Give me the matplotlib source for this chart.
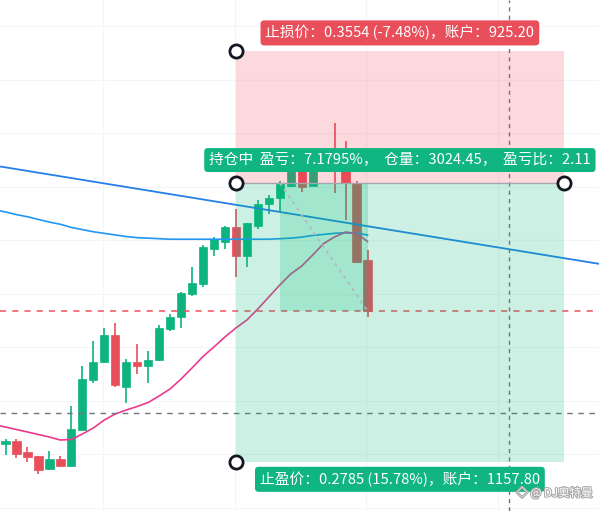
import matplotlib
matplotlib.use("Agg")
import matplotlib.pyplot as plt
import matplotlib.patheffects as pe
from matplotlib.patches import Rectangle

plt.rcParams['font.family'] = ['Noto Sans CJK SC', 'DejaVu Sans']

# candles (index 0 = leftmost visible bar)
opens  = [0.2819, 0.2825, 0.2804, 0.2796, 0.2772, 0.2791, 0.2778, 0.2845, 0.2939, 0.2972,
          0.3023, 0.2926, 0.2973, 0.2965, 0.2976, 0.3034, 0.3057, 0.3100, 0.3118, 0.3184,
          0.3197, 0.3224, 0.3171, 0.3227, 0.3268, 0.3279, 0.3301, 0.3344, 0.3301, 0.3350,
          0.3346, 0.3330, 0.3307, 0.3164]
highs  = [0.2829, 0.2829, 0.2814, 0.2797, 0.2807, 0.2796, 0.2890, 0.2965, 0.3012, 0.3037,
          0.3045, 0.2978, 0.3007, 0.2993, 0.3042, 0.3062, 0.3104, 0.3151, 0.3191, 0.3207,
          0.3227, 0.3259, 0.3233, 0.3275, 0.3285, 0.3310, 0.3350, 0.3359, 0.3354, 0.3369,
          0.3420, 0.3386, 0.3310, 0.3182]
lows   = [0.2799, 0.2793, 0.2786, 0.2763, 0.2771, 0.2776, 0.2776, 0.2843, 0.2933, 0.2971,
          0.2925, 0.2896, 0.2951, 0.2934, 0.2974, 0.3031, 0.3037, 0.3096, 0.3112, 0.3171,
          0.3184, 0.3132, 0.3151, 0.3222, 0.3250, 0.3253, 0.3299, 0.3291, 0.3301, 0.3331,
          0.3288, 0.3238, 0.3158, 0.3056]
closes = [0.2824, 0.2801, 0.2795, 0.2771, 0.2791, 0.2778, 0.2847, 0.2941, 0.2973, 0.3023,
          0.2930, 0.2973, 0.2965, 0.2976, 0.3036, 0.3057, 0.3102, 0.3121, 0.3188, 0.3202,
          0.3224, 0.3171, 0.3232, 0.3268, 0.3280, 0.3307, 0.3341, 0.3299, 0.3339, 0.3339,
          0.3335, 0.3308, 0.3160, 0.3068]

# moving averages, index -1 .. 33
ma_x = list(range(-1, 34))
ma_blue = [0.3257, 0.3253, 0.3248, 0.3244, 0.3239, 0.3234, 0.3230, 0.3224, 0.3220, 0.3216,
           0.3213, 0.3210, 0.3207, 0.3205, 0.3204, 0.3203, 0.3202, 0.3202, 0.3202, 0.3202,
           0.3202, 0.3202, 0.3202, 0.3202, 0.3202, 0.3202, 0.3203, 0.3204, 0.3206, 0.3209,
           0.3211, 0.3213, 0.3214, 0.3213, 0.3210]
ma_pink = [0.28548, 0.28510, 0.28463, 0.28417, 0.28370, 0.28323, 0.28267, 0.28277, 0.28379, 0.28491,
           0.28641, 0.28753, 0.28828, 0.28893, 0.28968, 0.29090, 0.29221, 0.29407, 0.29613, 0.29828,
           0.30006, 0.30193, 0.30361, 0.30510, 0.30716, 0.30940, 0.31164, 0.31370, 0.31519, 0.31725,
           0.31940, 0.32062, 0.32155, 0.32127, 0.31978]

trend_x = [-0.5, 54.1]
trend_y = [0.3338, 0.3156]

# short position tool
entry = 0.3307
stop = 0.3554
target = 0.2785
current = 0.3068
pos_start, pos_end = 21, 50.9
open_start, open_end = 25, 33
cross_x = 45.9
cross_y = 0.28766

label_stop = "止损价：0.3554 (-7.48%)，账户：925.20"
label_mid = "持仓中  盈亏：7.1795%，  仓量：3024.45，  盈亏比：2.11"
label_tp = "止盈价：0.2785 (15.78%)，账户：1157.80"

GREEN = "#0db47f"
RED = "#e94e5b"

fig = plt.figure(figsize=(5.99, 5.11), dpi=100)
ax = fig.add_axes([0, 0, 1, 1])
ax.set_xlim(-0.5014, 54.10)
ax.set_ylim(0.269402, 0.364916)
ax.axis("off")

# grid
for g in [0.27, 0.28, 0.29, 0.30, 0.31, 0.32, 0.33, 0.34, 0.35, 0.36]:
    ax.axhline(g, color="#f4f5f8", lw=0.8, zorder=0)
for g in [8.9, 20.9, 32.9, 44.9]:
    ax.axvline(g, color="#f4f5f8", lw=0.8, zorder=0)

# candles
for i in range(len(opens)):
    col = GREEN if closes[i] >= opens[i] else RED
    ax.plot([i, i], [lows[i], highs[i]], color=col, lw=1.2, zorder=2, solid_capstyle="butt")
    lo = min(opens[i], closes[i])
    h = max(abs(closes[i] - opens[i]), 0.00025)
    ax.add_patch(Rectangle((i - 0.38, lo), 0.76, h, facecolor=col, edgecolor=col, lw=0.5, zorder=2))

ax.plot(ma_x, ma_blue, color="#2196f3", lw=1.2, zorder=3)
ax.plot(ma_x, ma_pink, color="#ec3a8e", lw=1.2, zorder=3)
ax.plot(trend_x, trend_y, color="#2480e8", lw=1.3, zorder=3)

ax.axhline(current, color="#f0505c", lw=1.1, dashes=(4, 4), zorder=3)
ax.axhline(cross_y, color="#6f7280", lw=1.0, dashes=(4, 4), zorder=3)
ax.axvline(cross_x, color="#6f7280", lw=1.0, dashes=(3, 3), zorder=3)

# position areas
ax.add_patch(Rectangle((pos_start, entry), pos_end - pos_start, stop - entry,
                       facecolor=(0.95, 0.21, 0.27, 0.19), edgecolor="none", zorder=4))
ax.add_patch(Rectangle((pos_start, target), pos_end - pos_start, entry - target,
                       facecolor=(0.0, 0.73, 0.47, 0.2), edgecolor="none", zorder=4))
ax.add_patch(Rectangle((open_start, current), open_end - open_start, entry - current,
                       facecolor=(0.0, 0.73, 0.47, 0.2), edgecolor="none", zorder=4))
ax.plot([pos_start, pos_end], [entry, entry], color="#a3a6af", lw=1.0, zorder=5)
ax.plot([open_start, open_end], [entry, current], color="#b4b7bf", lw=1.2, dashes=(2, 2.5), zorder=5)

# handles
ax.plot([pos_start, pos_start, pos_end, pos_start], [stop, entry, entry, target], "o",
        ms=9.5, mfc="white", mec="#131722", mew=2, zorder=7)

mid_x = (pos_start + pos_end) / 2
px = (0.364916 - 0.269402) / 511
box = dict(boxstyle="round,pad=0.33,rounding_size=0.25", ec="none")
ax.text(mid_x, stop + 18 * px, label_stop, color="white", fontsize=10.6, ha="center", va="center",
        bbox=dict(box, fc=RED), zorder=8)
ax.text(mid_x, entry + 23 * px, label_mid, color="white", fontsize=10.6, ha="center", va="center",
        bbox=dict(box, fc="#10b581"), zorder=8)
ax.text(mid_x, target - 17 * px, label_tp, color="white", fontsize=10.6, ha="center", va="center",
        bbox=dict(box, fc="#10b581"), zorder=8)

ax.text(0.862, 0.035, "◇ @ DJ奥特曼", transform=ax.transAxes, fontsize=8.3, color="white",
        ha="left", va="center", zorder=9,
        path_effects=[pe.withStroke(linewidth=1.5, foreground="#a8a8a8")])

fig.savefig("out.png", dpi=100)
